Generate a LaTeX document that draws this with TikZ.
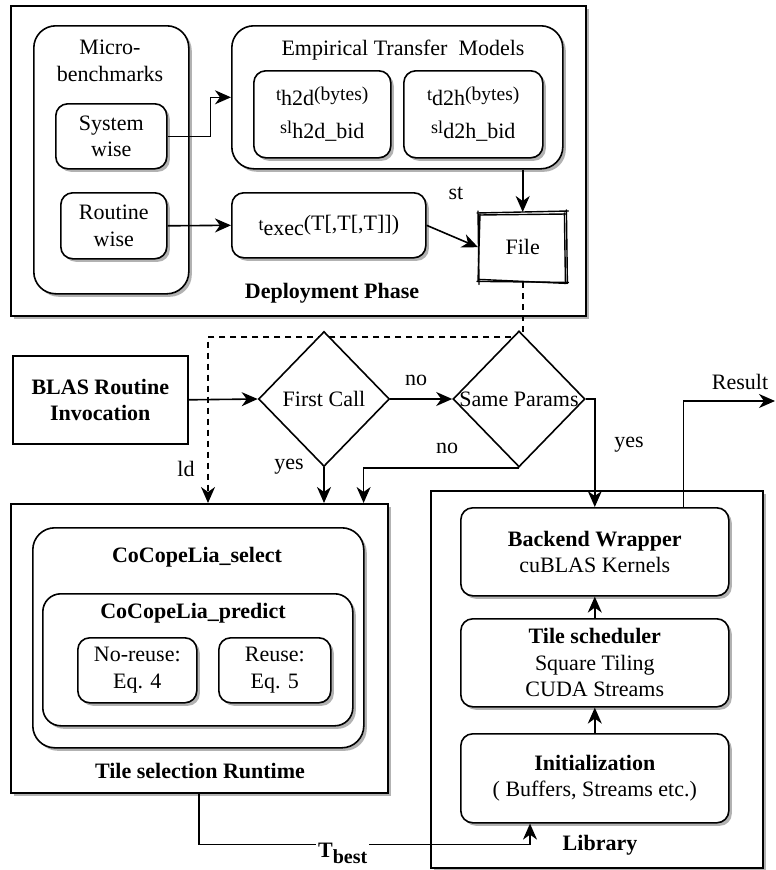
\documentclass[tikz,border=0pt]{standalone}
\usepackage{fontspec}
\setmainfont{Liberation Serif}
\usetikzlibrary{shapes.geometric,arrows.meta,shadows,calc}

% small base letter, lowered subscript, trailing part
\newcommand\lsub[3]{{\fontsize{18}{18}\selectfont #1}\raisebox{-5pt}{#2}#3}
\newcommand\smallpart[1]{{\fontsize{19.5}{19.5}\selectfont #1}}

\begin{document}
\begin{tikzpicture}[x=1pt,y=-1pt,
  every node/.style={font=\fontsize{22}{26.5}\selectfont, align=center, inner sep=0pt},
  bft/.style={font=\fontsize{22}{26.5}\selectfont\bfseries},
  shd/.style={drop shadow={shadow xshift=3pt,shadow yshift=-3pt,fill=black!50,opacity=0.6}},
  frame/.style={draw, fill=white, line width=1.6pt, shd},
  rbox/.style={frame, rounded corners=12pt},
  bigr/.style={frame, rounded corners=22pt},
  sz/.style 2 args={minimum width=#1, minimum height=#2, anchor=north west},
  dmd/.style={diamond, draw, fill=white, line width=1.6pt, inner sep=0pt},
  arr/.style={line width=1.6pt, -{Stealth[length=16pt,width=14pt,inset=5pt]}},
  sketch/.style={line width=1.4pt, line cap=round},
]
\useasboundingbox (0,0) rectangle (776,870);

% ---------- Deployment phase ----------
\node[frame, sz={575pt}{310pt}] (dep) at (10,5) {};
\node[bigr, sz={155pt}{268pt}] (micro) at (33,25) {};
\node (microt) at (110,61) {Micro-\\benchmarks};
\node[rbox, sz={111pt}{65pt}] (sys) at (55,103) {System\\wise};
\node[rbox, sz={106pt}{66pt}] (rout) at (60,192) {Routine\\wise};

\node[bigr, sz={331pt}{143pt}] (etm) at (231,25) {};
\node (etmt) at (403,50) {Empirical Transfer\ \ Models};
\node[rbox, sz={137pt}{87pt}] (h2d) at (253,70)
  {\lsub{t}{h2d}{\smallpart{(bytes)}}\\[6pt]\lsub{sl}{h2d\_bid}{}};
\node[rbox, sz={139pt}{87pt}] (d2h) at (403,70)
  {\lsub{t}{d2h}{\smallpart{(bytes)}}\\[6pt]\lsub{sl}{d2h\_bid}{}};
\node[rbox, sz={194pt}{65pt}] (texec) at (231,192) {\lsub{t}{exec}{(T[,T[,T]])}};

\node[fill=white, sz={89pt}{70pt}] (file) at (478,212) {File};
\draw[sketch] ($(file.north west)+(-1,1)$) -- ($(file.north east)+(1,-1)$);
\draw[sketch] ($(file.north west)+(1,3)$) -- ($(file.north east)+(-1,2)$);
\draw[sketch] ($(file.north east)+(-1,-2)$) -- ($(file.south east)+(0,1)$);
\draw[sketch] ($(file.north east)+(-3,1)$) -- ($(file.south east)+(-2,-1)$);
\draw[sketch] ($(file.south west)+(-1,-1)$) -- ($(file.south east)+(1,0)$);
\draw[sketch] ($(file.south west)+(1,-3)$) -- ($(file.south east)+(-1,1)$);
\draw[sketch] ($(file.north west)+(0,-1)$) -- ($(file.south west)+(1,2)$);
\draw[sketch] ($(file.north west)+(2,2)$) -- ($(file.south west)+(0,-1)$);

\node (st) at (456,193) {st};
\node[bft] (dept) at (332,293) {Deployment Phase};

\draw[arr] (sys.east) -- ++(43,0) |- (etm.west);
\draw[arr] (rout.east) -- (texec.west);
\draw[arr] (file.north |- etm.south) -- (file.north);
\draw[arr] (texec.east) -- (file.west);

% ---------- Tile selection runtime ----------
\node[frame, sz={377pt}{289pt}] (tsr) at (10,503) {};
\node[bigr, sz={331pt}{220pt}] (sel) at (32,527) {};
\node[bft] (selt) at (197,557) {CoCopeLia\_select};
\node[frame, rounded corners=18pt, sz={310pt}{132pt}] (pred) at (42,593) {};
\node[bft] (predt) at (193,613) {CoCopeLia\_predict};
\node[rbox, sz={119pt}{65pt}] (nore) at (77,637) {No-reuse:\\Eq. 4};
\node[rbox, sz={112pt}{65pt}] (reuse) at (218,637) {Reuse:\\Eq. 5};
\node[bft] (tsrt) at (200,771) {Tile selection Runtime};

% ---------- Library ----------
\node[frame, sz={332pt}{377pt}] (lib) at (430,490) {};
\node[rbox, sz={268pt}{88pt}] (bw) at (460,507) {\textbf{Backend Wrapper}\\cuBLAS Kernels};
\node[rbox, sz={268pt}{88pt}] (ts) at (460,618) {\textbf{Tile scheduler}\\Square Tiling\\CUDA Streams};
\node[rbox, sz={268pt}{89pt}] (init) at (460,733) {\textbf{Initialization}\\( Buffers, Streams etc.)};
\node[bft] (libt) at (600,845) {Library};
\draw[arr] (ts.north) -- (bw.south);
\draw[arr] (init.north) -- (ts.south);

% ---------- control flow ----------
\coordinate (ldturn) at (208,337);
\draw[arr, dash pattern=on 6pt off 5pt] (file.south) |- (ldturn) -- (ldturn |- tsr.north);

\node[draw, fill=white, line width=1.6pt, sz={175pt}{88pt}, bft] (blas) at (12,355) {BLAS Routine\\Invocation};
\node[dmd, minimum width=131pt, minimum height=135pt] (fc) at (324,399) {};
\node (fct) at (fc.center) {First Call};
\node[dmd, minimum width=132pt, minimum height=136pt] (sp) at (519,399) {};
\node (spt) at (519,399) {Same Params};

\draw[arr] (blas.east) -- (fc.west);
\draw[arr] (fc.east) -- (sp.west);
\draw[arr] (fc.south) -- (fc.south |- tsr.north);
\draw[arr] (sp.south) -| ($(tsr.north east)+(-25,0)$);
\draw[arr] (sp.east) -| (bw.north);
\coordinate (res) at (775,401);
\draw[arr] ($(bw.north east)+(-46,0)$) |- (res);

\node (ld) at (186,469) {ld};
\node (yes1) at (289,467) {yes};
\node (no1) at (416,380) {no};
\node (no2) at (447,448) {no};
\node (yes2) at (629,445) {yes};
\node (result) at (740,382) {Result};

\draw[arr] ($(tsr.south west)+(189,0)$) -- ++(0,51) -| ($(init.south west)+(70,0)$);
\node[fill=white, inner xsep=2pt, inner ysep=2pt, anchor=base west, bft] (tbest) at (316,857)
  {T\raisebox{-6pt}{\fontsize{20}{20}\selectfont best}};
\end{tikzpicture}
\end{document}
